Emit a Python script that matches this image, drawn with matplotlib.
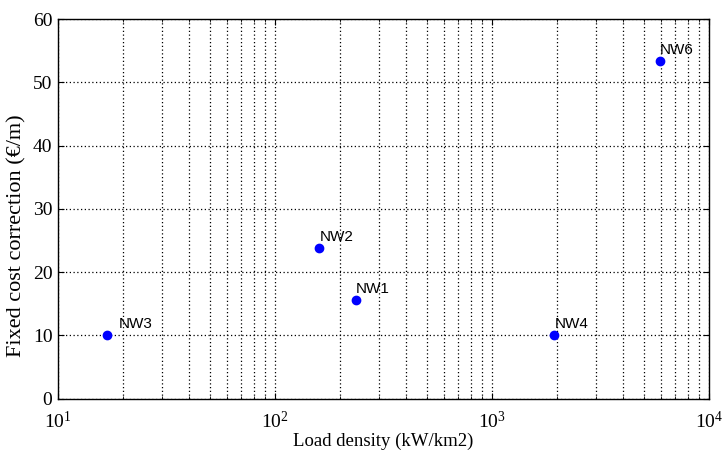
import matplotlib
matplotlib.use("Agg")
import matplotlib.pyplot as plt

# Network data
names = ["NW1", "NW2", "NW3", "NW4", "NW6"]
load_density = [235, 160, 16.9, 1940, 5950]      # kW/km2
cost_correction = [15.6, 23.8, 10.0, 10.1, 53.4]  # EUR/m

# label offsets in points (NW3 is shifted right in the original)
label_dx = [0, 0, 8, 0, 0]
label_dy = 5

plt.rcParams['font.family'] = ['Liberation Serif', 'DejaVu Serif']
plt.rcParams['mathtext.fontset'] = 'custom'
plt.rcParams['mathtext.rm'] = 'Liberation Serif'
plt.rcParams['mathtext.it'] = 'Liberation Serif:italic'

fig = plt.figure(figsize=(7.22, 4.53), dpi=100)
ax = fig.add_axes([0.0803, 0.12, 0.9017, 0.838])

ax.plot(load_density, cost_correction, 'o', color='blue', markersize=6, zorder=3)

for n, x, y, dx in zip(names, load_density, cost_correction, label_dx):
    ax.annotate(n, (x, y), xytext=(dx, label_dy), textcoords='offset points',
                fontsize=11, family='Liberation Sans', va='baseline', ha='left')

ax.set_xscale('log')
ax.set_xlim(10, 1e4)
ax.set_ylim(0, 60)
ax.set_yticks(range(0, 61, 10))

dots = (0, (1, 2))
ax.grid(True, which='major', color='black', linestyle=dots, linewidth=0.9)
ax.grid(True, which='minor', axis='x', color='black', linestyle=dots, linewidth=0.9)

ax.tick_params(which='both', direction='in', top=True, right=True, labelsize=14)
ax.tick_params(which='major', length=4)
ax.tick_params(axis='x', which='major', pad=9)
ax.tick_params(axis='y', which='major', pad=4)
ax.tick_params(which='minor', length=2)
for s in ax.spines.values():
    s.set_linewidth(1.0)

ax.set_xlabel("Load density (kW/km2)", fontsize=13.5, labelpad=0)
ax.set_ylabel("Fixed cost correction (€/m)", fontsize=16)
# the original label sits a little below the middle of the axis
ax.yaxis.set_label_coords(-0.063, 0.428)
ax.yaxis.label.set_va('center')

fig.savefig("out.png", dpi=100)
